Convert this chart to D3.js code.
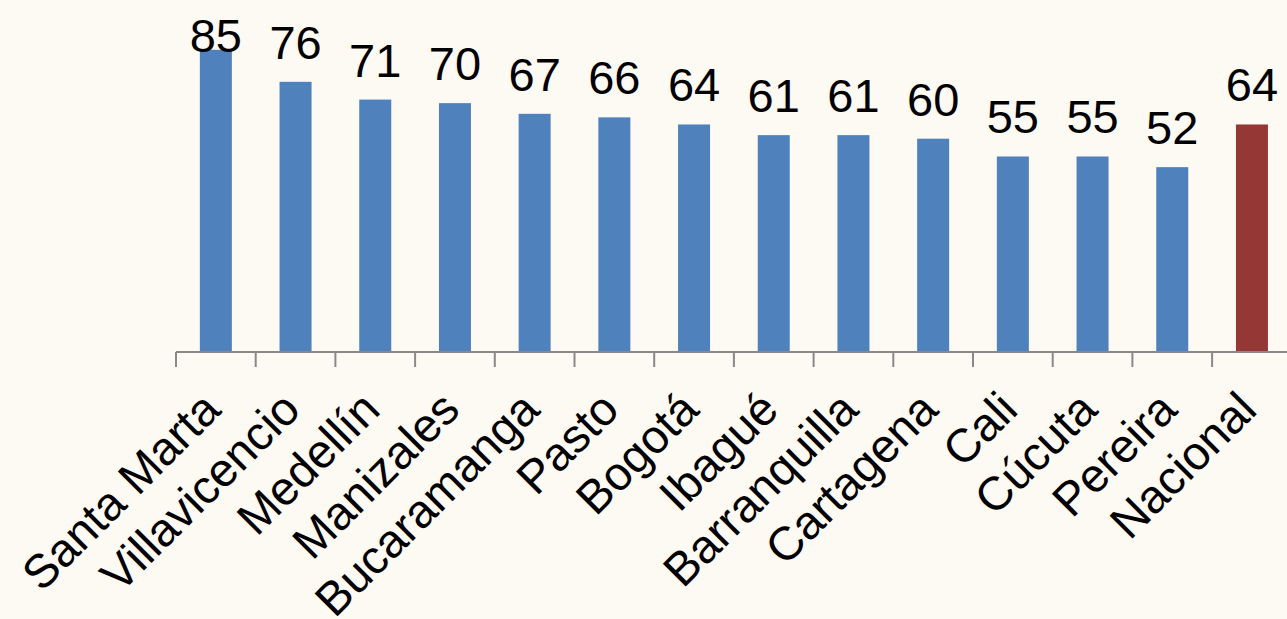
<!DOCTYPE html>
<html><head><meta charset="utf-8">
<script src="https://cdn.jsdelivr.net/npm/d3@7"></script>
<style>html,body{margin:0;padding:0;background:#fdf9f3;overflow:hidden}</style>
</head><body>
<svg id="c" width="1287" height="619"></svg>
<script>
const categories = ["Santa Marta","Villavicencio","Medellín","Manizales","Bucaramanga","Pasto","Bogotá","Ibagué","Barranquilla","Cartagena","Cali","Cúcuta","Pereira","Nacional"];
const values = [85,76,71,70,67,66,64,61,61,60,55,55,52,64];
const colors = ["#4f81bd","#4f81bd","#4f81bd","#4f81bd","#4f81bd","#4f81bd","#4f81bd","#4f81bd","#4f81bd","#4f81bd","#4f81bd","#4f81bd","#4f81bd","#953735"];

const svg = d3.select("#c");
svg.append("rect").attr("width",1287).attr("height",619).attr("fill","#fdf9f3");
const x0 = 176, step = 79.7, axisY = 352;
const x = d3.scaleBand().domain(categories).range([x0, x0 + step*categories.length]).paddingInner(0).paddingOuter(0);
const y = d3.scaleLinear().domain([0,100]).range([axisY, axisY - 355.5]);
const bw = 32;

svg.selectAll("rect.bar").data(values).enter().append("rect")
  .attr("class","bar")
  .attr("x",(d,i)=>x(categories[i]) + x.bandwidth()/2 - bw/2)
  .attr("y",d=>y(d))
  .attr("width",bw)
  .attr("height",d=>axisY - y(d))
  .attr("fill",(d,i)=>colors[i]);

svg.selectAll("text.val").data(values).enter().append("text")
  .attr("class","val")
  .attr("x",(d,i)=>x(categories[i]) + x.bandwidth()/2)
  .attr("y",d=>Math.max(y(d) - 23, 52))
  .attr("text-anchor","middle")
  .attr("font-family","Liberation Sans, Arial, sans-serif")
  .attr("font-size",47)
  .attr("fill","#000")
  .text(d=>d);

const g = svg.append("g");
g.append("line").attr("x1",x0).attr("x2",1287).attr("y1",axisY).attr("y2",axisY)
  .attr("stroke","#898989").attr("stroke-width",2);
const bounds = d3.range(categories.length).map(i=>x(categories[i]));
g.selectAll("line.tick").data(bounds).enter().append("line")
  .attr("x1",d=>d).attr("x2",d=>d).attr("y1",axisY).attr("y2",axisY+15)
  .attr("stroke","#898989").attr("stroke-width",2);

svg.selectAll("text.cat").data(categories).enter().append("text")
  .attr("class","cat")
  .attr("transform",d=>`translate(${x(d)+x.bandwidth()/2+7},412) rotate(-45)`)
  .attr("text-anchor","end")
  .attr("font-family","Liberation Sans, Arial, sans-serif")
  .attr("font-size",47)
  .attr("fill","#000")
  .text(d=>d);
</script>
</body></html>
